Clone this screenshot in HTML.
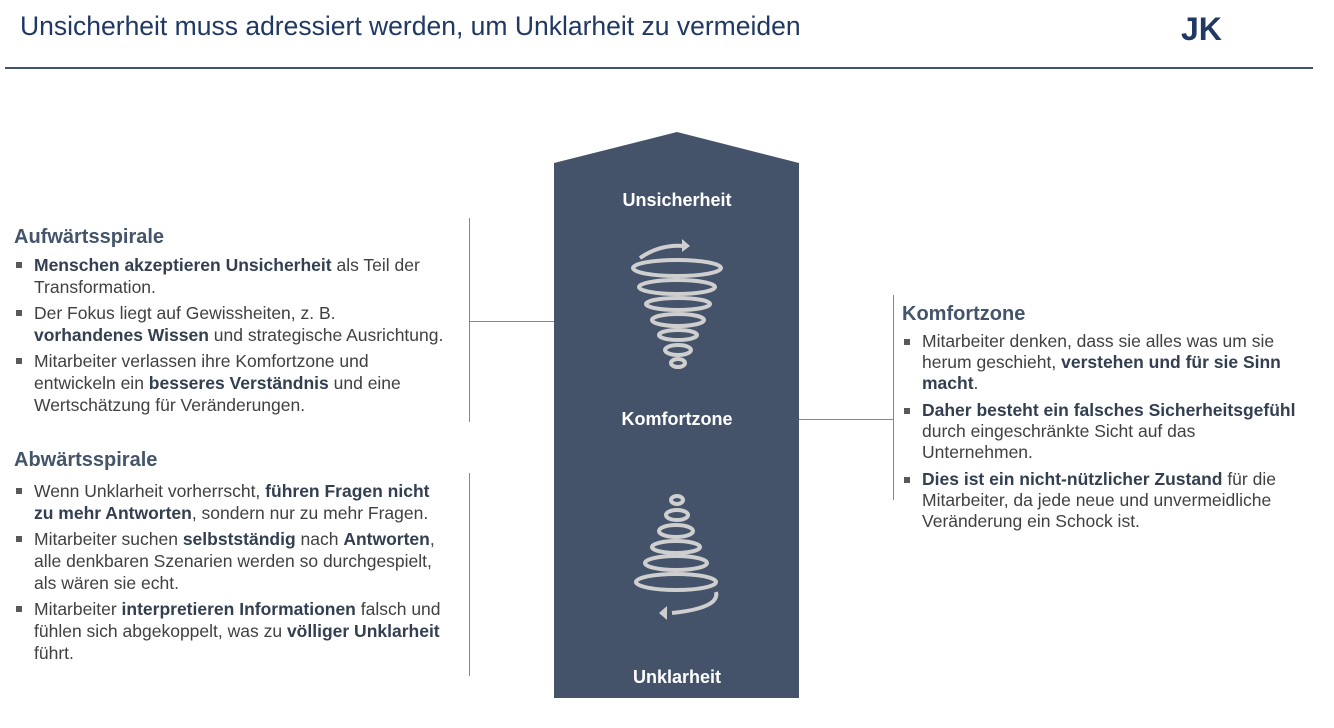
<!DOCTYPE html>
<html><head><meta charset="utf-8"><style>
body{margin:0;width:1334px;height:728px;background:#fff;position:relative;font-family:"Liberation Sans",Arial,sans-serif;overflow:hidden}
.t{position:absolute;white-space:nowrap}
h2{position:absolute;margin:0;font-size:20px;color:#44546a;font-weight:bold}
ul{position:absolute;margin:0;padding:0;list-style:none;font-size:17.5px;line-height:22px;color:#404040}
li{position:relative;padding-left:20px;margin-bottom:4px}
li:before{content:"";position:absolute;left:2px;top:8px;width:6px;height:6px;background:#595959}
ul.r{line-height:21px}
ul.r li{margin-bottom:6px}
b{color:#333f50}
.ln{position:absolute;background:#7f8a99}
.lbl{position:absolute;width:246px;left:554px;text-align:center;color:#fff;font-weight:bold;font-size:18px;font-family:"Liberation Sans",sans-serif}
</style></head><body>
<div class="t" style="left:20px;top:11px;font-size:26.5px;color:#1f3864">Unsicherheit muss adressiert werden, um Unklarheit zu vermeiden</div>
<div class="t" style="left:1181px;top:11px;font-size:32px;font-weight:bold;color:#1f3864">JK</div>
<div style="position:absolute;left:5px;top:67px;width:1308px;height:2px;background:#44546a"></div>

<svg style="position:absolute;left:0;top:0" width="1334" height="728">
<polygon points="554,163 677,132 799,163 799,698 554,698" fill="#44536a"/>
<g fill="none" stroke="#cfcfcf" stroke-width="4">
<path d="M640,258 Q660,244 684,246"/>
<ellipse cx="677" cy="268" rx="44" ry="8"/>
<ellipse cx="677" cy="287" rx="38" ry="7"/>
<ellipse cx="678" cy="304" rx="32" ry="6"/>
<ellipse cx="678" cy="320" rx="26" ry="6"/>
<ellipse cx="678" cy="335" rx="19" ry="5"/>
<ellipse cx="678" cy="350" rx="13" ry="5"/>
<ellipse cx="678" cy="363" rx="7" ry="4"/>
<ellipse cx="677" cy="500" rx="6" ry="4"/>
<ellipse cx="677" cy="515" rx="11" ry="5"/>
<ellipse cx="676" cy="531" rx="17" ry="6"/>
<ellipse cx="676" cy="547" rx="24" ry="6"/>
<ellipse cx="676" cy="563" rx="31" ry="7"/>
<ellipse cx="676" cy="582" rx="40" ry="8"/>
<path d="M716,592 Q720,608 672,613"/>
</g>
<polygon points="682,239 690,246 682,252" fill="#cfcfcf"/>
<polygon points="667,606 667,620 659,613" fill="#cfcfcf"/>
</svg>
<div class="lbl" style="top:190px">Unsicherheit</div>
<div class="lbl" style="top:409px">Komfortzone</div>
<div class="lbl" style="top:667px">Unklarheit</div>

<div class="ln" style="left:469px;top:218px;width:1px;height:204px"></div>
<div class="ln" style="left:469px;top:321px;width:85px;height:1px"></div>
<div class="ln" style="left:469px;top:473px;width:1px;height:203px"></div>
<div class="ln" style="left:893px;top:295px;width:1px;height:205px"></div>
<div class="ln" style="left:799px;top:419px;width:94px;height:1px"></div>

<h2 style="left:14px;top:226px">Aufwärtsspirale</h2>
<ul style="left:14px;top:254px;width:432px">
<li><b>Menschen akzeptieren Unsicherheit</b> als Teil der Transformation.</li>
<li>Der Fokus liegt auf Gewissheiten, z. B.<br><b>vorhandenes Wissen</b> und strategische Ausrichtung.</li>
<li>Mitarbeiter verlassen ihre Komfortzone und entwickeln ein <b>besseres Verständnis</b> und eine Wertschätzung für Veränderungen.</li>
</ul>
<h2 style="left:14px;top:449px">Abwärtsspirale</h2>
<ul style="left:14px;top:480px;width:432px">
<li>Wenn Unklarheit vorherrscht, <b>führen Fragen nicht zu mehr Antworten</b>, sondern nur zu mehr Fragen.</li>
<li>Mitarbeiter suchen <b>selbstständig</b> nach <b>Antworten</b>, alle denkbaren Szenarien werden so durchgespielt, als wären sie echt.</li>
<li>Mitarbeiter <b>interpretieren Informationen</b> falsch und fühlen sich abgekoppelt, was zu <b>völliger Unklarheit</b> führt.</li>
</ul>
<h2 style="left:902px;top:303px">Komfortzone</h2>
<ul class="r" style="left:902px;top:331px;width:405px">
<li>Mitarbeiter denken, dass sie alles was um sie herum geschieht, <b>verstehen und für sie Sinn macht</b>.</li>
<li><b>Daher besteht ein falsches Sicherheitsgefühl</b> durch eingeschränkte Sicht auf das Unternehmen.</li>
<li><b>Dies ist ein nicht-nützlicher Zustand</b> für die Mitarbeiter, da jede neue und unvermeidliche Veränderung ein Schock ist.</li>
</ul>
</body></html>
